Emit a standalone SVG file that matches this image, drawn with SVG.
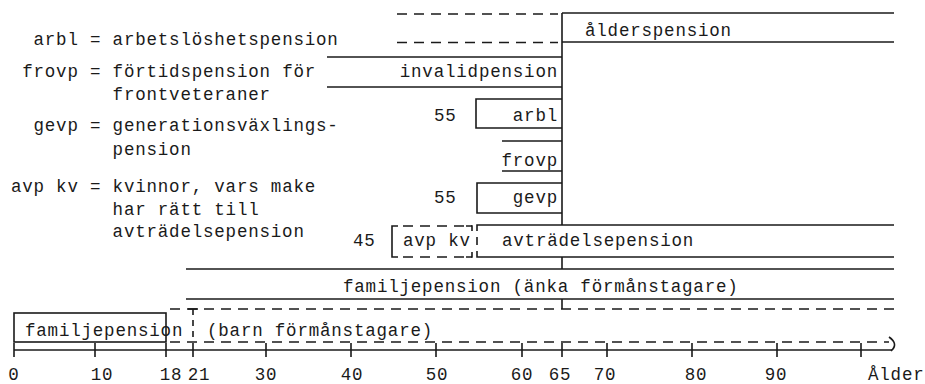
<svg xmlns="http://www.w3.org/2000/svg" width="925" height="384" viewBox="0 0 925 384">
<style>
text{font-family:"Liberation Mono","DejaVu Sans Mono",monospace;font-size:17.5px;letter-spacing:0.8px;fill:#1a1a1a}
.s{stroke:#1a1a1a;stroke-width:1.6;fill:none}
.d{stroke:#1a1a1a;stroke-width:1.6;fill:none;stroke-dasharray:10 7}
.e{text-anchor:end}
.m{text-anchor:middle}
</style>
<rect width="925" height="384" fill="#fff"/>
<g id="legend">
<text x="33.5" y="45">arbl = arbetslöshetspension</text>
<text x="22.2" y="77">frovp = förtidspension för</text>
<text x="112.6" y="100">frontveteraner</text>
<text x="33.5" y="131">gevp = generationsväxlings-</text>
<text x="112.6" y="155">pension</text>
<text x="10.9" y="192">avp kv = kvinnor, vars make</text>
<text x="112.6" y="215">har rätt till</text>
<text x="112.6" y="237">avträdelsepension</text>
</g>
<g id="alderspension">
<line class="d" x1="397" y1="14" x2="558" y2="14"/>
<line class="d" x1="397" y1="42.5" x2="558" y2="42.5"/>
<line class="s" x1="562" y1="13" x2="894" y2="13"/>
<line class="s" x1="562" y1="42" x2="894" y2="42"/>
<text x="585" y="36">ålderspension</text>
</g>
<g id="invalidpension">
<line class="s" x1="327" y1="57" x2="562" y2="57"/>
<line class="s" x1="327" y1="87" x2="562" y2="87"/>
<text class="e" x="558" y="77">invalidpension</text>
</g>
<g id="arbl">
<path class="s" d="M562,99 H476 V128 H562"/>
<text class="e" x="558" y="121">arbl</text>
<text x="434" y="121">55</text>
</g>
<g id="frovp">
<line class="s" x1="502" y1="141" x2="562" y2="141"/>
<line class="s" x1="502" y1="171" x2="562" y2="171"/>
<text class="e" x="558" y="166">frovp</text>
</g>
<g id="gevp">
<path class="s" d="M562,183 H477 V213 H562"/>
<text class="e" x="558" y="203">gevp</text>
<text x="434" y="203">55</text>
</g>
<g id="avpkv">
<path class="s" d="M398,226 H392 V257 H398"/>
<line class="d" x1="403" y1="226" x2="472" y2="226"/>
<line class="d" x1="403" y1="257" x2="472" y2="257"/>
<path class="s" d="M466,226 H472 V231 M466,257 H472 V252"/>
<text x="403" y="246">avp kv</text>
<text x="353" y="246">45</text>
</g>
<g id="avtradelsepension">
<path class="s" d="M477,231 V225 H894"/>
<path class="s" d="M477,251 V257 H894"/>
<line class="s" x1="477" y1="237" x2="477" y2="245"/>
<text x="502" y="246">avträdelsepension</text>
</g>
<g id="familjepension-anka">
<line class="s" x1="186" y1="269" x2="894" y2="269"/>
<line class="s" x1="186" y1="299" x2="894" y2="299"/>
<text x="343" y="292">familjepension (änka förmånstagare)</text>
</g>
<g id="familjepension-barn">
<rect class="s" x="14" y="313" width="152" height="29"/>
<text x="25" y="336">familjepension</text>
<line class="d" x1="170" y1="309" x2="894" y2="309"/>
<line class="d" x1="170" y1="342" x2="889" y2="342"/>
<line class="s" x1="188" y1="309" x2="198" y2="309"/>
<line class="s" x1="193" y1="309" x2="193" y2="341" stroke-dasharray="6 5"/>
<text x="207" y="336">(barn förmånstagare)</text>
</g>
<g id="connectors">
<path class="s" d="M562,13 V225 M562,257 V269 M562,299 V309"/>
</g>
<g id="axis">
<line class="s" x1="14" y1="350" x2="892" y2="350"/>
<path class="s" d="M889,337 Q899,344 891,351"/>
<path class="s" d="M14,343 V357 M95,343 V357 M166,343 V357 M193,343 V357 M266,343 V357 M351,343 V357 M436,343 V357 M522,343 V357 M562,343 V357 M607,343 V357 M692,343 V357 M777,343 V357 M861,343 V357"/>
<text class="m" x="14" y="380">0</text>
<text class="m" x="102" y="380">10</text>
<text class="m" x="171" y="380">18</text>
<text class="m" x="199" y="380">21</text>
<text class="m" x="266" y="380">30</text>
<text class="m" x="352" y="380">40</text>
<text class="m" x="437" y="380">50</text>
<text class="m" x="522" y="380">60</text>
<text class="m" x="560" y="380">65</text>
<text class="m" x="605" y="380">70</text>
<text class="m" x="696" y="380">80</text>
<text class="m" x="776" y="380">90</text>
<text x="868" y="380">Ålder</text>
</g>
</svg>
